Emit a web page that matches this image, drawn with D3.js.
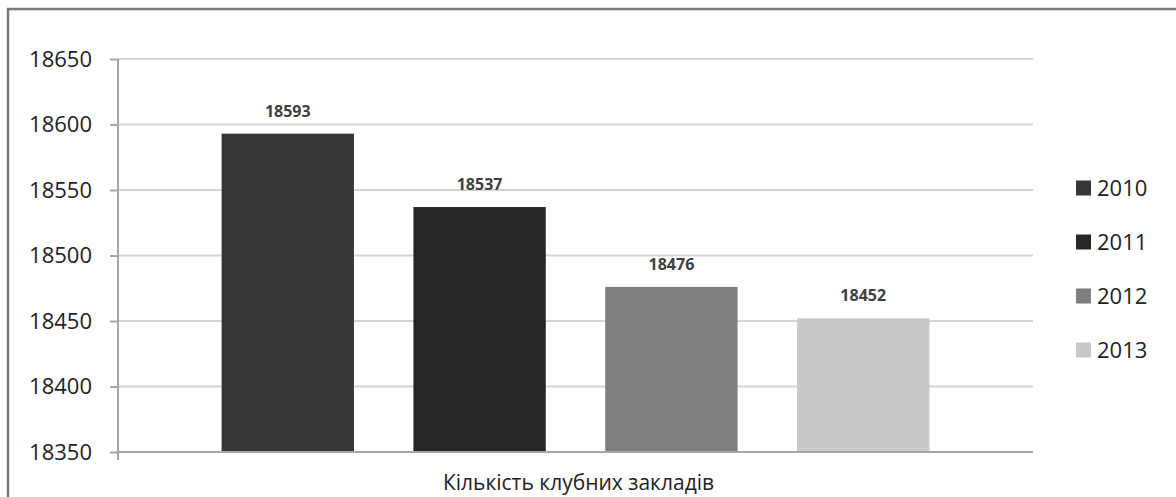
<!DOCTYPE html>
<html>
<head>
<meta charset="utf-8">
<script src="https://cdn.jsdelivr.net/npm/d3@7"></script>
<style>
  body { margin: 0; background: #fff; }
  text { font-family: "Open Sans", sans-serif; }
</style>
</head>
<body>
<div id="chart"></div>
<script>
var categories = ["Кількість клубних закладів"];
var series = ["2010", "2011", "2012", "2013"];
var values = [18593, 18537, 18476, 18452];
var colors = ["#363636", "#262626", "#7f7f7f", "#c8c8c8"];
var yTicks = [18350, 18400, 18450, 18500, 18550, 18600, 18650];

var W = 1176, H = 497;
var margin = { top: 59, left: 118, right: W - 1033, bottom: H - 452 };
var width = W - margin.left - margin.right,
    height = H - margin.top - margin.bottom;

var svg = d3.select("#chart").append("svg")
  .attr("width", W)
  .attr("height", H);

// outer chart frame
svg.append("rect")
  .attr("x", 8).attr("y", 9)
  .attr("width", W + 10).attr("height", H + 10)
  .attr("fill", "none")
  .attr("stroke", "#7a7a7a")
  .attr("stroke-width", 2.5);

var g = svg.append("g")
  .attr("transform", "translate(" + margin.left + "," + margin.top + ")");

var x0 = d3.scaleBand()
  .domain(categories)
  .range([0, width])
  .padding(0);

var x1 = d3.scaleBand()
  .domain(series)
  .range([0, x0.bandwidth()])
  .paddingInner(0.31)
  .paddingOuter(0.54);

var y = d3.scaleLinear()
  .domain([18350, 18650])
  .range([height, 0]);

// gridlines
g.append("g")
  .selectAll("line")
  .data(yTicks.slice(1))
  .enter().append("line")
  .attr("x1", 0).attr("x2", width)
  .attr("y1", function(d) { return y(d); })
  .attr("y2", function(d) { return y(d); })
  .attr("stroke", "#d4d4d4")
  .attr("stroke-width", 2);

// y axis
var yAxis = g.append("g")
  .attr("class", "y axis")
  .call(d3.axisLeft(y).tickValues(yTicks).tickSize(8).tickPadding(18).tickFormat(d3.format("d")));
yAxis.select(".domain").attr("stroke", "#a6a6a6").attr("stroke-width", 2)
  .attr("d", "M0," + (height + 8) + "V0");
yAxis.selectAll(".tick line").attr("stroke", "#a6a6a6").attr("stroke-width", 2);
yAxis.selectAll(".tick text")
  .attr("fill", "#222")
  .style("font-size", "22px");

// bars
var cat = g.append("g")
  .attr("transform", "translate(" + x0(categories[0]) + ",0)");

cat.selectAll(".bar")
  .data(values)
  .enter().append("rect")
  .attr("class", "bar")
  .attr("x", function(d, i) { return x1(series[i]); })
  .attr("width", x1.bandwidth())
  .attr("y", function(d) { return y(d); })
  .attr("height", function(d) { return height - y(d); })
  .attr("fill", function(d, i) { return colors[i]; });

cat.selectAll(".lbl")
  .data(values)
  .enter().append("text")
  .attr("class", "lbl")
  .attr("x", function(d, i) { return x1(series[i]) + x1.bandwidth() / 2; })
  .attr("y", function(d) { return y(d) - 17; })
  .attr("text-anchor", "middle")
  .attr("fill", "#404040")
  .style("font-size", "16px")
  .style("font-weight", "bold")
  .text(function(d) { return d; });

// baseline
g.append("line")
  .attr("x1", 0).attr("x2", width)
  .attr("y1", height).attr("y2", height)
  .attr("stroke", "#a6a6a6")
  .attr("stroke-width", 2);

// category label
g.append("text")
  .attr("x", x0(categories[0]) + x0.bandwidth() / 2 + 3)
  .attr("y", height + 38)
  .attr("text-anchor", "middle")
  .attr("fill", "#222")
  .style("font-size", "21px")
  .text(categories[0]);

// legend
var legend = svg.append("g")
  .attr("transform", "translate(1076,188)");
var item = legend.selectAll(".item")
  .data(series)
  .enter().append("g")
  .attr("class", "item")
  .attr("transform", function(d, i) { return "translate(0," + (i * 54) + ")"; });
item.append("rect")
  .attr("x", 0).attr("y", -7.5)
  .attr("width", 15).attr("height", 15)
  .attr("fill", function(d, i) { return colors[i]; });
item.append("text")
  .attr("x", 21).attr("y", 8)
  .attr("fill", "#222")
  .style("font-size", "22px")
  .text(function(d) { return d; });
</script>
</body>
</html>
